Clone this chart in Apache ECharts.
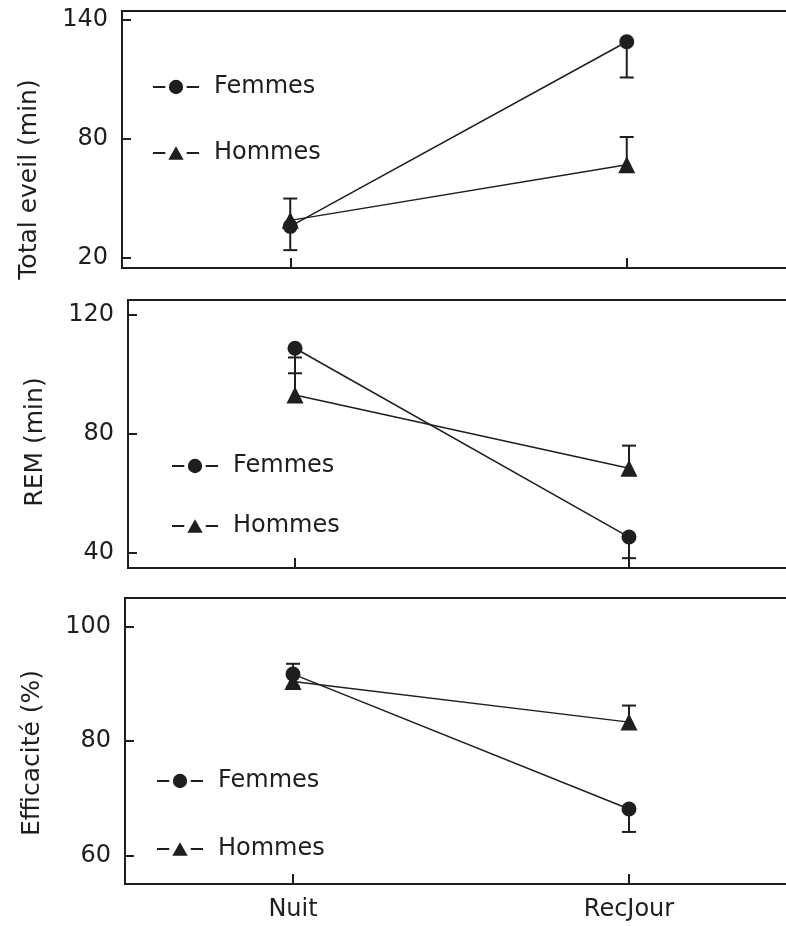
<!DOCTYPE html>
<html><head><meta charset="utf-8">
<script src="https://cdn.jsdelivr.net/npm/echarts@6/dist/echarts.min.js"></script>
<style>html,body{margin:0;padding:0;background:#fff}#c{width:786px;height:926px}</style>
</head><body><div id="c"></div>
<script>
const categories = ['Nuit', 'RecJour'];
const seriesNames = ['Femmes', 'Hommes'];

const eveilFemmes = [36, 129];
const eveilFemmesErr = [24, 111];
const eveilHommes = [39, 67];
const eveilHommesErr = [50, 81];
const eveilTicks = [20, 80, 140];

const remFemmes = [108.8, 45.4];
const remFemmesErr = [100.4, 38.3];
const remHommes = [93.1, 68.5];
const remHommesErr = [105.7, 76.1];
const remTicks = [40, 80, 120];

const effFemmes = [91.7, 68.1];
const effFemmesErr = [93.5, 64.1];
const effHommes = [90.4, 83.3];
const effHommesErr = [89.5, 86.2];
const effTicks = [60, 80, 100];

const INK = '#1e1e1e';
const FONT = 'DejaVu Sans';

const DASHES = 'M0 6 L12 6 L12 8 L0 8 Z M33 6 L45 6 L45 8 L33 8 Z ';
const ICON_F = 'path://' + DASHES + 'M15.5 7 A7 7 0 1 0 29.5 7 A7 7 0 1 0 15.5 7 Z M0 0 L0.01 0 Z M0 14 L0.01 14 Z';
const ICON_H = 'path://' + DASHES + 'M22.5 0.5 L30 13.5 L15 13.5 Z M0 0 L0.01 0 Z M0 14 L0.01 14 Z';

const panels = [
  {grid:{left:122, top:11, width:673, height:257}, min:15, max:144.5, ticks:eveilTicks, name:'Total eveil (min)', namePad:[0,80,0,0],
   f:eveilFemmes, fe:eveilFemmesErr, h:eveilHommes, he:eveilHommesErr, labels:false,
   legend:{left:148, top:68, itemGap:38}},
  {grid:{left:128, top:300, width:668, height:268}, min:35, max:125, ticks:remTicks, name:'REM (min)', namePad:[0,16,0,0],
   f:remFemmes, fe:remFemmesErr, h:remHommes, he:remHommesErr, labels:false,
   legend:{left:167, top:447, itemGap:32}},
  {grid:{left:125, top:598, width:672, height:286}, min:55, max:105, ticks:effTicks, name:'Efficacité (%)', namePad:[0,24,0,0],
   f:effFemmes, fe:effFemmesErr, h:effHommes, he:effHommesErr, labels:true,
   legend:{left:152, top:762, itemGap:40}}
];

function errRender(params, api) {
  const x = api.value(0), v = api.value(1), e = api.value(2);
  const p1 = api.coord([x, v]);
  const p2 = api.coord([x, e]);
  return {type:'group', children:[
    {type:'line', shape:{x1:p1[0], y1:p1[1], x2:p2[0], y2:p2[1]}, style:{stroke:INK, lineWidth:2}},
    {type:'line', shape:{x1:p2[0]-7, y1:p2[1], x2:p2[0]+7, y2:p2[1]}, style:{stroke:INK, lineWidth:2}}
  ]};
}

const option = {
  backgroundColor:'#fff',
  animation:false,
  grid:[], xAxis:[], yAxis:[], series:[], legend:[]
};

panels.forEach((p, i) => {
  option.grid.push(Object.assign({show:true, borderColor:INK, borderWidth:2, backgroundColor:'transparent',
    outerBoundsMode:'none', containLabel:false}, p.grid));
  option.xAxis.push({
    type:'category', data:categories, gridIndex:i, boundaryGap:true,
    axisLine:{lineStyle:{color:INK, width:2}},
    axisTick:{show:true, inside:true, length:10, alignWithLabel:true, lineStyle:{color:INK, width:2}},
    axisLabel:{show:p.labels, margin:14, fontFamily:FONT, fontSize:24, color:INK},
    splitLine:{show:false}
  });
  option.yAxis.push({
    type:'value', gridIndex:i, min:p.min, max:p.max,
    name:p.name, nameLocation:'middle', nameGap:80,
    nameTextStyle:{fontFamily:FONT, fontSize:25, color:INK, padding:p.namePad},
    axisLine:{show:true, lineStyle:{color:INK, width:2}},
    axisTick:{show:true, inside:true, length:9, customValues:p.ticks, lineStyle:{color:INK, width:2}},
    axisLabel:{customValues:p.ticks, margin:14, fontFamily:FONT, fontSize:24, color:INK},
    splitLine:{show:false}
  });
  option.legend.push({
    data:[{name:seriesNames[0], icon:ICON_F}, {name:seriesNames[1], icon:ICON_H}],
    orient:'vertical', left:p.legend.left, top:p.legend.top, itemGap:p.legend.itemGap,
    itemWidth:46, itemHeight:16,
    itemStyle:{color:INK, borderWidth:0},
    textStyle:{fontFamily:FONT, fontSize:24, color:INK, lineHeight:28, padding:[0,0,0,10]}
  });
  const mk = (vals, errs, nm, sym) => {
    option.series.push({
      type:'custom', name:nm + ' erreur', xAxisIndex:i, yAxisIndex:i, z:1,
      renderItem:errRender, data:categories.map((c, k) => [k, vals[k], errs[k]])
    });
    option.series.push({
      type:'line', name:nm, xAxisIndex:i, yAxisIndex:i, z:3,
      data:vals, symbol:sym, symbolSize:sym === 'circle' ? 15 : 17,
      itemStyle:{color:INK}, lineStyle:{color:INK, width:1.5}
    });
  };
  mk(p.f, p.fe, 'Femmes', 'circle');
  mk(p.h, p.he, 'Hommes', 'triangle');
});

const chart = echarts.init(document.getElementById('c'), null, {renderer:'canvas'});
chart.setOption(option);
</script>
</body></html>
